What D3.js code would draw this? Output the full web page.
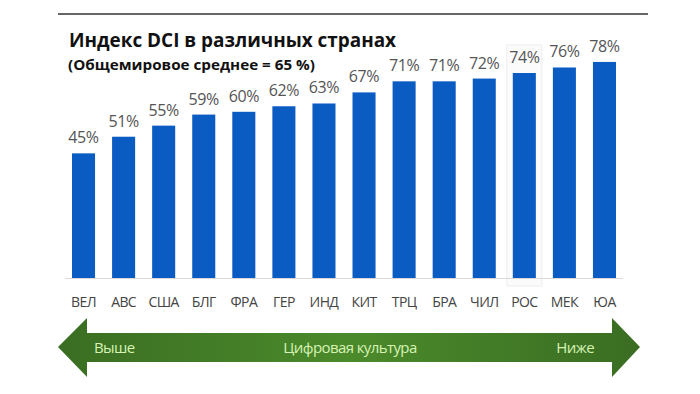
<!DOCTYPE html>
<html>
<head>
<meta charset="utf-8">
<script src="https://cdn.jsdelivr.net/npm/d3@7"></script>
<style>
  body { margin: 0; background: #fff; }
  svg { display: block; }
</style>
</head>
<body>
<svg></svg>
<script>
const countries = ["ВЕЛ", "АВС", "США", "БЛГ", "ФРА", "ГЕР", "ИНД", "КИТ", "ТРЦ", "БРА", "ЧИЛ", "РОС", "МЕК", "ЮА"];
const dciValues = [45, 51, 55, 59, 60, 62, 63, 67, 71, 71, 72, 74, 76, 78];
const titleText = "Индекс DCI в различных странах";
const subtitleText = "(Общемировое среднее = 65 %)";
const arrowLabels = ["Выше", "Цифровая культура", "Ниже"];
const highlighted = "РОС";

const width = 700;
const height = 394;
const marginLeft = 64;
const marginRight = 76;
const baseY = 278;

const svg = d3.select("svg")
    .attr("width", width)
    .attr("height", height);

// top rule
svg.append("line")
    .attr("x1", 58).attr("x2", 648)
    .attr("y1", 14).attr("y2", 14)
    .attr("stroke", "#666")
    .attr("stroke-width", 2);

svg.append("text")
    .attr("x", 69).attr("y", 47)
    .attr("font-family", "Open Sans, sans-serif")
    .attr("font-weight", "bold")
    .attr("font-size", 20)
    .attr("textLength", 327)
    .attr("lengthAdjust", "spacingAndGlyphs")
    .attr("fill", "#111")
    .text(titleText);

svg.append("text")
    .attr("x", 68).attr("y", 70)
    .attr("font-family", "Open Sans, sans-serif")
    .attr("font-weight", "bold")
    .attr("font-size", 15)
    .attr("textLength", 247)
    .attr("lengthAdjust", "spacingAndGlyphs")
    .attr("fill", "#111")
    .text(subtitleText);

const x = d3.scaleBand()
    .domain(countries)
    .range([marginLeft, width - marginRight])
    .paddingInner(0.425)
    .paddingOuter(0.2);

const y = d3.scaleLinear()
    .domain([0, 100])
    .range([baseY, baseY - 277]);

const data = countries.map((c, i) => ({ country: c, value: dciValues[i] }));

// faint selection box behind one bar
const hiTop = y(dciValues[countries.indexOf(highlighted)]) - 28;
svg.append("rect")
    .attr("x", x(highlighted) - 6)
    .attr("y", hiTop)
    .attr("width", x.bandwidth() + 12)
    .attr("height", baseY + 8 - hiTop)
    .attr("fill", "#fbfbfb")
    .attr("stroke", "#ededed");

svg.append("g")
    .selectAll("rect")
    .data(data)
    .join("rect")
    .attr("x", d => x(d.country))
    .attr("y", d => y(d.value))
    .attr("width", x.bandwidth())
    .attr("height", d => baseY - y(d.value))
    .attr("fill", "#0a5cc2");

svg.append("g")
    .selectAll("text")
    .data(data)
    .join("text")
    .attr("x", d => x(d.country) + x.bandwidth() / 2)
    .attr("y", d => y(d.value) - 10)
    .attr("text-anchor", "middle")
    .attr("font-family", "Open Sans, sans-serif")
    .attr("font-size", 16)
    .attr("letter-spacing", -0.4)
    .attr("fill", "#555")
    .text(d => d.value + "%");

// baseline
svg.append("line")
    .attr("x1", 65).attr("x2", 623)
    .attr("y1", baseY + 0.5).attr("y2", baseY + 0.5)
    .attr("stroke", "#d8d8d8");

svg.append("g")
    .attr("transform", `translate(0,${baseY})`)
    .call(d3.axisBottom(x).tickSize(0).tickPadding(19))
    .call(g => g.select(".domain").remove())
    .call(g => g.selectAll("text")
        .attr("font-family", "Open Sans, sans-serif")
        .attr("font-size", 14)
        .attr("letter-spacing", -0.6)
        .attr("fill", "#444"));

// double arrow
const defs = svg.append("defs");
const grad = defs.append("linearGradient")
    .attr("id", "arrowGrad")
    .attr("x1", "0%").attr("x2", "100%");
grad.append("stop").attr("offset", "0%").attr("stop-color", "#3a6d22");
grad.append("stop").attr("offset", "50%").attr("stop-color", "#4b8a2b");
grad.append("stop").attr("offset", "100%").attr("stop-color", "#3a6d22");

const midY = 347;
const arrow = d3.path();
arrow.moveTo(58, midY);
arrow.lineTo(87, 318);
arrow.lineTo(87, 333);
arrow.lineTo(612, 333);
arrow.lineTo(612, 318);
arrow.lineTo(640, midY);
arrow.lineTo(612, 377);
arrow.lineTo(612, 362);
arrow.lineTo(87, 362);
arrow.lineTo(87, 377);
arrow.closePath();

svg.append("path")
    .attr("d", arrow.toString())
    .attr("fill", "url(#arrowGrad)");

const arrowText = svg.append("g")
    .attr("font-family", "Open Sans, sans-serif")
    .attr("font-size", 15)
    .attr("letter-spacing", -0.6)
    .attr("fill", "#d6f3b4");

arrowText.append("text").attr("x", 94).attr("y", 353).text(arrowLabels[0]);
arrowText.append("text").attr("x", 350).attr("y", 353).attr("text-anchor", "middle").text(arrowLabels[1]);
arrowText.append("text").attr("x", 594).attr("y", 353).attr("text-anchor", "end").text(arrowLabels[2]);
</script>
</body>
</html>
